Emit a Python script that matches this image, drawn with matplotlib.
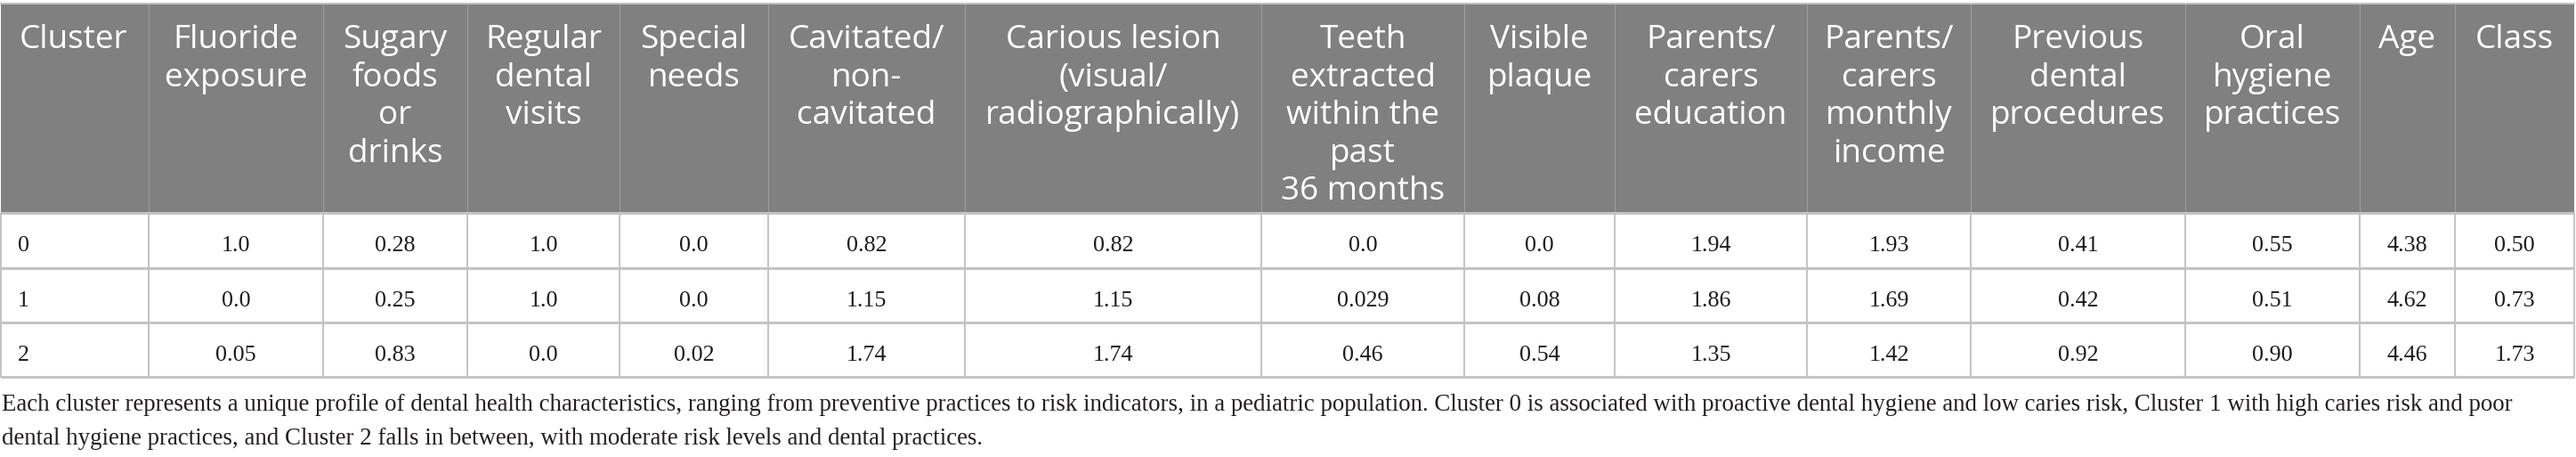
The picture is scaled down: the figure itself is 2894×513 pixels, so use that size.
import matplotlib
matplotlib.use("Agg")
import matplotlib.pyplot as plt
from matplotlib.patches import Rectangle

W, H = 2894, 513
DPI = 100

# table content
headers = [
    "Cluster", "Fluoride\nexposure", "Sugary\nfoods\nor\ndrinks", "Regular\ndental\nvisits",
    "Special\nneeds", "Cavitated/\nnon-\ncavitated", "Carious lesion\n(visual/\nradiographically)",
    "Teeth\nextracted\nwithin the\npast\n36 months", "Visible\nplaque", "Parents/\ncarers\neducation",
    "Parents/\ncarers\nmonthly\nincome", "Previous\ndental\nprocedures", "Oral\nhygiene\npractices",
    "Age", "Class",
]
clusters = ["0", "1", "2"]
fluoride = ["1.0", "0.0", "0.05"]
sugary = ["0.28", "0.25", "0.83"]
regular_visits = ["1.0", "1.0", "0.0"]
special_needs = ["0.0", "0.0", "0.02"]
cavitated = ["0.82", "1.15", "1.74"]
carious = ["0.82", "1.15", "1.74"]
extracted = ["0.0", "0.029", "0.46"]
plaque = ["0.0", "0.08", "0.54"]
education = ["1.94", "1.86", "1.35"]
income = ["1.93", "1.69", "1.42"]
procedures = ["0.41", "0.42", "0.92"]
hygiene = ["0.55", "0.51", "0.90"]
age = ["4.38", "4.62", "4.46"]
class_ = ["0.50", "0.73", "1.73"]
columns = [clusters, fluoride, sugary, regular_visits, special_needs, cavitated, carious,
           extracted, plaque, education, income, procedures, hygiene, age, class_]

caption = [
    "Each cluster represents a unique profile of dental health characteristics, ranging from "
    "preventive practices to risk indicators, in a pediatric population. Cluster 0 is associated with "
    "proactive dental hygiene and low caries risk, Cluster 1 with high caries risk and poor",
    "dental hygiene practices, and Cluster 2 falls in between, with moderate risk levels and dental practices.",
]

# layout (pixels)
col_edges = [1, 167, 363, 525, 696, 863, 1084, 1417, 1645, 1814, 2030, 2214, 2455, 2651, 2758, 2892]
top, head_bot = 5, 239
row_edges = [239, 301, 362, 423]
HEAD_BG = "#808080"
GRID = "#c4c4c4"
px = 72 / DPI

fig = plt.figure(figsize=(W / DPI, H / DPI), dpi=DPI)
ax = fig.add_axes([0, 0, 1, 1])
ax.set_xlim(0, W)
ax.set_ylim(H, 0)
ax.axis("off")

# header background
ax.add_patch(Rectangle((col_edges[0], top), col_edges[-1] - col_edges[0], head_bot - top,
                       facecolor=HEAD_BG, edgecolor="none"))
ax.plot([col_edges[0], col_edges[-1]], [top - 1, top - 1], color=GRID, lw=2 * px)
for x in col_edges[1:-1]:
    ax.plot([x, x], [top, head_bot], color="#9c9c9c", lw=1.2 * px)

# body grid
for y in row_edges:
    ax.plot([col_edges[0], col_edges[-1]], [y, y], color=GRID, lw=3 * px, solid_capstyle="butt")
for x in col_edges:
    ax.plot([x, x], [head_bot, row_edges[-1]], color=GRID, lw=2 * px)

# header text
for i, h in enumerate(headers):
    x0, x1 = col_edges[i], col_edges[i + 1]
    for j, line in enumerate(h.split("\n")):
        y = 54 + j * 42.6
        if i == 0:
            ax.text(x0 + 21, y, line, ha="left", va="baseline", color="white",
                    fontsize=37 * px, family="Open Sans")
        else:
            ax.text((x0 + x1) / 2, y, line, ha="center", va="baseline", color="white",
                    fontsize=37 * px, family="Open Sans")

# body text
for i, col in enumerate(columns):
    x0, x1 = col_edges[i], col_edges[i + 1]
    for r, val in enumerate(col):
        y = 282 + r * 61.5
        if i == 0:
            ax.text(x0 + 19, y, val, ha="left", va="baseline", color="#1a1a1a",
                    fontsize=26 * px, family="Liberation Serif")
        else:
            ax.text((x0 + x1) / 2, y, val, ha="center", va="baseline", color="#1a1a1a",
                    fontsize=26 * px, family="Liberation Serif")

# caption, first line fitted to the table width
t1 = ax.text(2, 461, caption[0], ha="left", va="baseline", color="#231f20",
             fontsize=25 * px, family="Liberation Serif")
fig.canvas.draw()
bb = t1.get_window_extent()
fs = 25 * px * (2825 - 2) / bb.width
t1.set_fontsize(fs)
ax.text(2, 499, caption[1], ha="left", va="baseline", color="#231f20",
        fontsize=fs, family="Liberation Serif")

fig.savefig("out.png", dpi=DPI)
plt.close(fig)
